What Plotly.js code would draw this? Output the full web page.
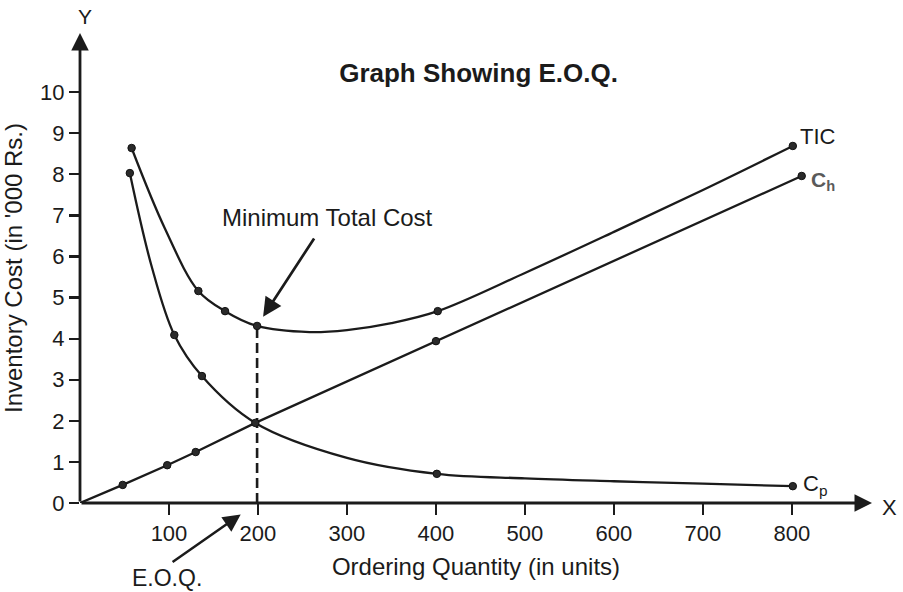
<!DOCTYPE html>
<html>
<head>
<meta charset="utf-8">
<script src="https://cdn.plot.ly/plotly-3.0.1.min.js"></script>
<style>html,body{margin:0;padding:0;background:#fff;}#chart{width:903px;height:592px;}</style>
</head>
<body>
<div id="chart"></div>
<script>
// ---- data ----
const xTickVals = [100, 200, 300, 400, 500, 600, 700, 800];
const yTickVals = [0, 1, 2, 3, 4, 5, 6, 7, 8, 9, 10];

// Total Inventory Cost (TIC): dotted points and extra points along the curve
const ticPointsQ = [58, 133, 163, 199, 402, 801];
const ticPointsCost = [8.64, 5.16, 4.67, 4.31, 4.67, 8.69];
const ticCurveQ = [95, 258, 300, 350, 500, 600, 700];
const ticCurveCost = [6.7, 4.16, 4.21, 4.38, 5.6, 6.6, 7.62];

// Carrying / holding cost (Ch)
const chPointsQ = [48, 98, 130, 197, 400, 811];
const chPointsCost = [0.44, 0.92, 1.24, 1.95, 3.94, 7.96];
const chCurveQ = [0];
const chCurveCost = [0];

// Ordering cost (Cp)
const cpPointsQ = [56, 106, 137, 401, 801];
const cpPointsCost = [8.03, 4.09, 3.09, 0.71, 0.41];
const cpCurveQ = [80, 197, 300, 500, 600, 700];
const cpCurveCost = [5.8, 1.95, 1.1, 0.6, 0.53, 0.47];

const eoqQ = ticPointsQ[3];
const eoqTic = ticPointsCost[3];

// ---- helpers ----
function merge(qa, ca, qb, cb) {
  const pts = qa.map((q, i) => [q, ca[i]]).concat(qb.map((q, i) => [q, cb[i]]));
  pts.sort((a, b) => a[0] - b[0]);
  return {x: pts.map(p => p[0]), y: pts.map(p => p[1])};
}

const INK = '#1b1b1b';
const FONT = 'Liberation Sans, Arial, Helvetica, sans-serif';

const tic = merge(ticPointsQ, ticPointsCost, ticCurveQ, ticCurveCost);
const ch = merge(chPointsQ, chPointsCost, chCurveQ, chCurveCost);
const cp = merge(cpPointsQ, cpPointsCost, cpCurveQ, cpCurveCost);

const lineStyle = {color: INK, width: 2.3};
const markerStyle = {symbol: 'circle', size: 7.5, color: '#2a2a2a', line: {color: '#111', width: 1}};

const traces = [
  {x: tic.x, y: tic.y, mode: 'lines', line: Object.assign({shape: 'spline', smoothing: 1}, lineStyle), hoverinfo: 'skip'},
  {x: cp.x, y: cp.y, mode: 'lines', line: Object.assign({shape: 'spline', smoothing: 1}, lineStyle), hoverinfo: 'skip'},
  {x: ch.x, y: ch.y, mode: 'lines', line: Object.assign({shape: 'linear'}, lineStyle), hoverinfo: 'skip'},
  {x: [eoqQ, eoqQ], y: [0, eoqTic], mode: 'lines', line: {color: INK, width: 2.6, dash: '10px,5px'}, hoverinfo: 'skip'},
  {x: ticPointsQ, y: ticPointsCost, mode: 'markers', marker: markerStyle},
  {x: chPointsQ, y: chPointsCost, mode: 'markers', marker: markerStyle},
  {x: cpPointsQ, y: cpPointsCost, mode: 'markers', marker: markerStyle}
];

const nT = ticPointsQ.length - 1, nH = chPointsQ.length - 1, nP = cpPointsQ.length - 1;

const annotations = [
  // axis arrows
  {xref: 'x domain', yref: 'y domain', axref: 'x domain', ayref: 'y domain', x: 1, y: 0, ax: 0, ay: 0,
   showarrow: true, arrowhead: 2, arrowsize: 1.25, arrowwidth: 2.8, arrowcolor: INK, text: ''},
  {xref: 'x domain', yref: 'y domain', axref: 'x domain', ayref: 'y domain', x: 0, y: 1, ax: 0, ay: 0,
   showarrow: true, arrowhead: 2, arrowsize: 1.25, arrowwidth: 2.8, arrowcolor: INK, text: ''},
  {xref: 'paper', yref: 'paper', x: 1, y: 0, xanchor: 'left', yanchor: 'middle', xshift: 8, yshift: -4,
   text: 'X', showarrow: false, font: {family: FONT, size: 22, color: INK}},
  {xref: 'paper', yref: 'paper', x: 0, y: 1, xanchor: 'center', yanchor: 'middle', xshift: 5, yshift: 17,
   text: 'Y', showarrow: false, font: {family: FONT, size: 21, color: INK}},
  // series labels
  {x: ticPointsQ[nT], y: ticPointsCost[nT], xanchor: 'left', yanchor: 'middle', xshift: 5, yshift: 9,
   text: 'TIC', showarrow: false, font: {family: FONT, size: 22, color: INK}},
  {x: chPointsQ[nH], y: chPointsCost[nH], xanchor: 'left', yanchor: 'middle', xshift: 7, yshift: -5,
   text: '<b>C<sub>h</sub></b>', showarrow: false, font: {family: FONT, size: 21, color: '#5a5a5a'}},
  {x: cpPointsQ[nP], y: cpPointsCost[nP], xanchor: 'left', yanchor: 'middle', xshift: 8, yshift: 1,
   text: 'C<sub>p</sub>', showarrow: false, font: {family: FONT, size: 22, color: INK}},
  // Minimum total cost
  {x: eoqQ, y: eoqTic, ax: 58, ay: -89, standoff: 11, showarrow: true, arrowhead: 2, arrowsize: 1.4,
   arrowwidth: 2.7, arrowcolor: INK, text: ''},
  {xref: 'paper', yref: 'paper', x: 0.312, y: 0.6085, xanchor: 'center', yanchor: 'middle',
   text: 'Minimum Total Cost', showarrow: false, font: {family: FONT, size: 24, color: INK}},
  // EOQ
  {x: eoqQ, y: 0, ax: -86, ay: 60, standoff: 20, showarrow: true, arrowhead: 2, arrowsize: 1.4,
   arrowwidth: 2.5, arrowcolor: INK, text: ''},
  {xref: 'paper', yref: 'paper', x: 0.11, y: -0.16, xanchor: 'center', yanchor: 'middle',
   text: 'E.O.Q.', showarrow: false, font: {family: FONT, size: 23, color: INK}}
];

const layout = {
  width: 903, height: 592,
  margin: {l: 80, r: 31, t: 33, b: 89},
  paper_bgcolor: '#fff', plot_bgcolor: '#fff',
  showlegend: false,
  title: {text: '<b>Graph Showing E.O.Q.</b>', x: 0.53, xanchor: 'center', y: 0.877, yanchor: 'middle',
          font: {family: FONT, size: 26, color: INK}},
  xaxis: {range: [0, 890], showgrid: false, zeroline: false, showline: false,
          tickmode: 'array', tickvals: xTickVals, ticks: 'outside', ticklen: 11, tickwidth: 2.3, tickcolor: INK,
          tickfont: {family: FONT, size: 22, color: INK},
          title: {text: 'Ordering Quantity (in units)', font: {family: FONT, size: 24, color: INK}, standoff: 12}},
  yaxis: {range: [0, 11.44], showgrid: false, zeroline: false, showline: false,
          tickmode: 'array', tickvals: yTickVals, ticks: 'outside', ticklen: 10, tickwidth: 2.3, tickcolor: INK,
          tickfont: {family: FONT, size: 22, color: INK},
          title: {text: "Inventory Cost (in '000 Rs.)", font: {family: FONT, size: 24, color: INK}, standoff: 10}},
  annotations: annotations
};

Plotly.newPlot('chart', traces, layout, {staticPlot: true, displayModeBar: false});
</script>
</body>
</html>
